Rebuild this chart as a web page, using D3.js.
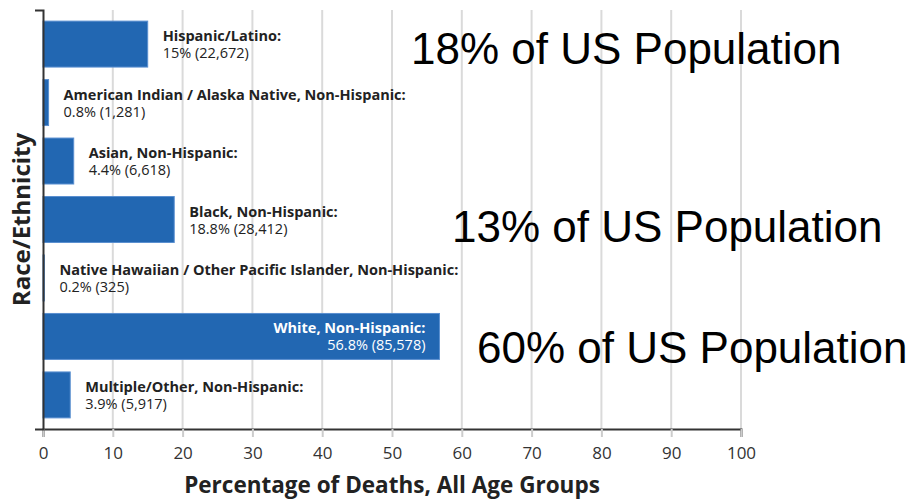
<!DOCTYPE html>
<html>
<head>
<meta charset="utf-8">
<script src="https://cdn.jsdelivr.net/npm/d3@7"></script>
<style>
  html, body { margin: 0; padding: 0; background: #fff; }
  svg { display: block; }
</style>
</head>
<body>
<svg id="chart" width="911" height="500"></svg>
<script>
// Deaths by race/ethnicity, all age groups
const groups = [
  "Hispanic/Latino:",
  "American Indian / Alaska Native, Non-Hispanic:",
  "Asian, Non-Hispanic:",
  "Black, Non-Hispanic:",
  "Native Hawaiian / Other Pacific Islander, Non-Hispanic:",
  "White, Non-Hispanic:",
  "Multiple/Other, Non-Hispanic:"
];
const percents = [15, 0.8, 4.4, 18.8, 0.2, 56.8, 3.9];
const deaths = [22672, 1281, 6618, 28412, 325, 85578, 5917];
const xTicks = [0, 10, 20, 30, 40, 50, 60, 70, 80, 90, 100];

// US population share notes, placed beside their groups
const notes = ["18% of US Population", "13% of US Population", "60% of US Population"];

const OPEN = "'Open Sans', sans-serif";
const svg = d3.select("#chart");
const plotL = 43, plotR = 741, plotT = 10, plotB = 429;

const x = d3.scaleLinear().domain([0, 100]).range([plotL, plotR]);
const y = d3.scaleBand().domain(groups).range([plotT, plotB])
  .paddingInner(0.214).paddingOuter(0.19);

// vertical gridlines
svg.append("g").selectAll("line").data(xTicks.slice(1)).join("line")
  .attr("x1", d => x(d)).attr("x2", d => x(d))
  .attr("y1", plotT).attr("y2", plotB)
  .attr("stroke", "#dadada").attr("stroke-width", 2);

// bars
const rows = groups.map((g, i) => ({ g, p: percents[i], n: deaths[i] }));
svg.append("g").selectAll("rect").data(rows).join("rect")
  .attr("x", x(0))
  .attr("y", d => y(d.g))
  .attr("width", d => x(d.p) - x(0))
  .attr("height", y.bandwidth())
  .attr("fill", "#2267b2")
  .attr("stroke", "#5a8fd0").attr("stroke-width", 1);

// bar labels: name on the first line, share and count on the second
const fmt = d3.format(",");
const inside = d => d.p > 40;
const labels = svg.append("g").selectAll("text").data(rows).join("text")
  .attr("text-anchor", d => inside(d) ? "end" : "start")
  .attr("fill", d => inside(d) ? "#fff" : "#222")
  .style("font-family", OPEN)
  .style("font-size", "14.5px");
labels.append("tspan")
  .attr("x", d => inside(d) ? x(d.p) - 14 : x(d.p) + 15)
  .attr("y", d => y(d.g) + y.bandwidth() / 2 - 3)
  .style("font-weight", 700)
  .text(d => d.g);
labels.append("tspan")
  .attr("x", d => inside(d) ? x(d.p) - 14 : x(d.p) + 15)
  .attr("y", d => y(d.g) + y.bandwidth() / 2 + 14)
  .text(d => `${d.p}% (${fmt(d.n)})`);

// x axis
const xAxis = svg.append("g").attr("transform", `translate(0,${plotB})`)
  .call(d3.axisBottom(x).tickValues(xTicks).tickSize(8).tickSizeOuter(8).tickPadding(10));
xAxis.select(".domain").attr("stroke", "#333").attr("stroke-width", 2);
xAxis.selectAll(".tick line").attr("stroke", "#ccc").attr("stroke-width", 2);
xAxis.selectAll(".tick text")
  .style("font-family", OPEN).style("font-size", "17px").attr("fill", "#333");

// y axis (no tick labels, outer ticks only)
const yAxis = svg.append("g").attr("transform", `translate(${plotL},0)`)
  .call(d3.axisLeft(y).tickValues([]).tickSizeOuter(8));
yAxis.select(".domain").attr("stroke", "#333").attr("stroke-width", 2).attr("fill", "none");

// axis titles
svg.append("text")
  .attr("x", (plotL + plotR) / 2).attr("y", 493)
  .attr("text-anchor", "middle")
  .style("font-family", OPEN).style("font-weight", 700).style("font-size", "22.5px")
  .attr("fill", "#222")
  .text("Percentage of Deaths, All Age Groups");
svg.append("text")
  .attr("transform", `translate(30,${(plotT + plotB) / 2}) rotate(-90)`)
  .attr("text-anchor", "middle")
  .style("font-family", OPEN).style("font-weight", 700).style("font-size", "24px")
  .attr("fill", "#222")
  .text("Race/Ethnicity");

// population notes
const noteX = [411, 452, 477];
const noteBase = [64, 242, 363];
svg.append("g").selectAll("text").data(notes).join("text")
  .attr("x", (d, i) => noteX[i])
  .attr("y", (d, i) => noteBase[i])
  .style("font-family", "'Liberation Sans', Arial, sans-serif")
  .style("font-size", "44px")
  .attr("fill", "#000")
  .text(d => d);
</script>
</body>
</html>
